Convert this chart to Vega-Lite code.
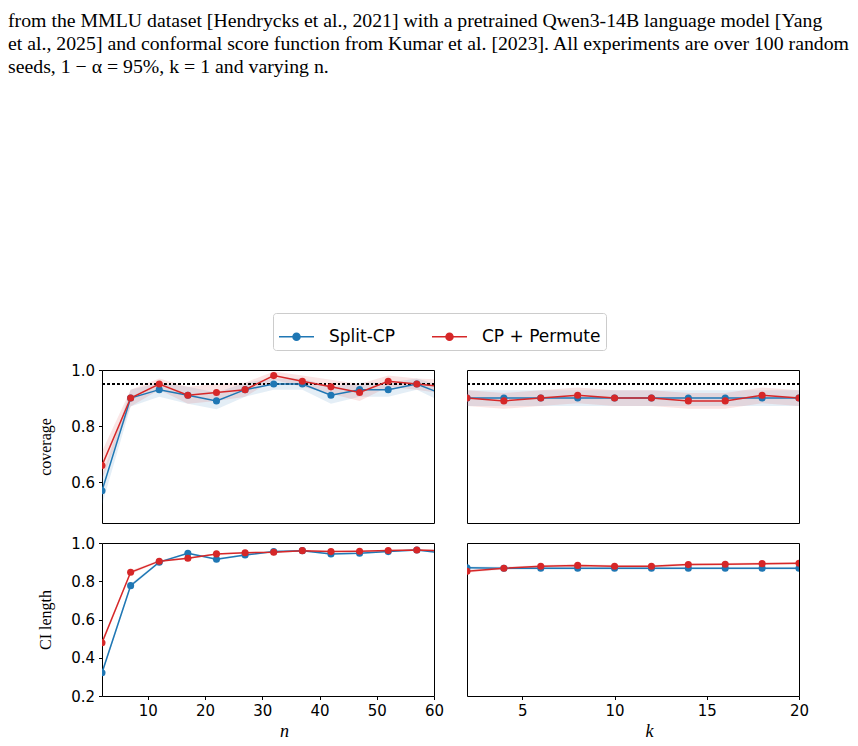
{
  "$schema": "https://vega.github.io/schema/vega-lite/v6.json",
  "background": "white",
  "padding": {"left": 8, "top": 11, "right": 5, "bottom": 5},
  "title": {
    "text": [
      "from the MMLU dataset [Hendrycks et al., 2021] with a pretrained Qwen3-14B language model [Yang",
      "et al., 2025] and conformal score function from Kumar et al. [2023]. All experiments are over 100 random",
      "seeds, 1 − α = 95%, k = 1 and varying n."
    ],
    "anchor": "start",
    "frame": "group",
    "dx": -94,
    "font": "Liberation Serif",
    "fontSize": 19.8,
    "fontWeight": "normal",
    "lineHeight": 22.8,
    "color": "black",
    "offset": 236
  },
  "datasets": {
    "runs": [
      {"panel": "cov_n", "method": "Split-CP", "x": 2, "v": 0.57, "lo": 0.52, "hi": 0.62},
      {"panel": "cov_n", "method": "Split-CP", "x": 7, "v": 0.90, "lo": 0.87, "hi": 0.93},
      {"panel": "cov_n", "method": "Split-CP", "x": 12, "v": 0.93, "lo": 0.905, "hi": 0.955},
      {"panel": "cov_n", "method": "Split-CP", "x": 17, "v": 0.91, "lo": 0.88, "hi": 0.94},
      {"panel": "cov_n", "method": "Split-CP", "x": 22, "v": 0.89, "lo": 0.86, "hi": 0.92},
      {"panel": "cov_n", "method": "Split-CP", "x": 27, "v": 0.93, "lo": 0.905, "hi": 0.955},
      {"panel": "cov_n", "method": "Split-CP", "x": 32, "v": 0.95, "lo": 0.93, "hi": 0.97},
      {"panel": "cov_n", "method": "Split-CP", "x": 37, "v": 0.95, "lo": 0.93, "hi": 0.97},
      {"panel": "cov_n", "method": "Split-CP", "x": 42, "v": 0.91, "lo": 0.88, "hi": 0.94},
      {"panel": "cov_n", "method": "Split-CP", "x": 47, "v": 0.93, "lo": 0.905, "hi": 0.955},
      {"panel": "cov_n", "method": "Split-CP", "x": 52, "v": 0.93, "lo": 0.905, "hi": 0.955},
      {"panel": "cov_n", "method": "Split-CP", "x": 57, "v": 0.95, "lo": 0.93, "hi": 0.97},
      {"panel": "cov_n", "method": "Split-CP", "x": 62, "v": 0.91, "lo": 0.88, "hi": 0.94},
      {"panel": "cov_n", "method": "CP + Permute", "x": 2, "v": 0.66, "lo": 0.61, "hi": 0.71},
      {"panel": "cov_n", "method": "CP + Permute", "x": 7, "v": 0.90, "lo": 0.87, "hi": 0.93},
      {"panel": "cov_n", "method": "CP + Permute", "x": 12, "v": 0.95, "lo": 0.93, "hi": 0.97},
      {"panel": "cov_n", "method": "CP + Permute", "x": 17, "v": 0.91, "lo": 0.88, "hi": 0.94},
      {"panel": "cov_n", "method": "CP + Permute", "x": 22, "v": 0.92, "lo": 0.89, "hi": 0.95},
      {"panel": "cov_n", "method": "CP + Permute", "x": 27, "v": 0.93, "lo": 0.905, "hi": 0.955},
      {"panel": "cov_n", "method": "CP + Permute", "x": 32, "v": 0.98, "lo": 0.965, "hi": 0.995},
      {"panel": "cov_n", "method": "CP + Permute", "x": 37, "v": 0.96, "lo": 0.94, "hi": 0.98},
      {"panel": "cov_n", "method": "CP + Permute", "x": 42, "v": 0.94, "lo": 0.915, "hi": 0.965},
      {"panel": "cov_n", "method": "CP + Permute", "x": 47, "v": 0.92, "lo": 0.89, "hi": 0.95},
      {"panel": "cov_n", "method": "CP + Permute", "x": 52, "v": 0.96, "lo": 0.94, "hi": 0.98},
      {"panel": "cov_n", "method": "CP + Permute", "x": 57, "v": 0.95, "lo": 0.93, "hi": 0.97},
      {"panel": "cov_n", "method": "CP + Permute", "x": 62, "v": 0.94, "lo": 0.915, "hi": 0.965},

      {"panel": "cov_k", "method": "Split-CP", "x": 2, "v": 0.90, "lo": 0.872, "hi": 0.928},
      {"panel": "cov_k", "method": "Split-CP", "x": 4, "v": 0.90, "lo": 0.872, "hi": 0.928},
      {"panel": "cov_k", "method": "Split-CP", "x": 6, "v": 0.90, "lo": 0.872, "hi": 0.928},
      {"panel": "cov_k", "method": "Split-CP", "x": 8, "v": 0.90, "lo": 0.872, "hi": 0.928},
      {"panel": "cov_k", "method": "Split-CP", "x": 10, "v": 0.90, "lo": 0.872, "hi": 0.928},
      {"panel": "cov_k", "method": "Split-CP", "x": 12, "v": 0.90, "lo": 0.872, "hi": 0.928},
      {"panel": "cov_k", "method": "Split-CP", "x": 14, "v": 0.90, "lo": 0.872, "hi": 0.928},
      {"panel": "cov_k", "method": "Split-CP", "x": 16, "v": 0.90, "lo": 0.872, "hi": 0.928},
      {"panel": "cov_k", "method": "Split-CP", "x": 18, "v": 0.90, "lo": 0.872, "hi": 0.928},
      {"panel": "cov_k", "method": "Split-CP", "x": 20, "v": 0.90, "lo": 0.872, "hi": 0.928},
      {"panel": "cov_k", "method": "CP + Permute", "x": 2, "v": 0.90, "lo": 0.872, "hi": 0.928},
      {"panel": "cov_k", "method": "CP + Permute", "x": 4, "v": 0.89, "lo": 0.862, "hi": 0.918},
      {"panel": "cov_k", "method": "CP + Permute", "x": 6, "v": 0.90, "lo": 0.872, "hi": 0.928},
      {"panel": "cov_k", "method": "CP + Permute", "x": 8, "v": 0.91, "lo": 0.882, "hi": 0.938},
      {"panel": "cov_k", "method": "CP + Permute", "x": 10, "v": 0.90, "lo": 0.872, "hi": 0.928},
      {"panel": "cov_k", "method": "CP + Permute", "x": 12, "v": 0.90, "lo": 0.872, "hi": 0.928},
      {"panel": "cov_k", "method": "CP + Permute", "x": 14, "v": 0.89, "lo": 0.862, "hi": 0.918},
      {"panel": "cov_k", "method": "CP + Permute", "x": 16, "v": 0.89, "lo": 0.862, "hi": 0.918},
      {"panel": "cov_k", "method": "CP + Permute", "x": 18, "v": 0.91, "lo": 0.882, "hi": 0.938},
      {"panel": "cov_k", "method": "CP + Permute", "x": 20, "v": 0.90, "lo": 0.872, "hi": 0.928},

      {"panel": "len_n", "method": "Split-CP", "x": 2, "v": 0.322, "lo": 0.31, "hi": 0.334},
      {"panel": "len_n", "method": "Split-CP", "x": 7, "v": 0.777, "lo": 0.767, "hi": 0.787},
      {"panel": "len_n", "method": "Split-CP", "x": 12, "v": 0.900, "lo": 0.894, "hi": 0.906},
      {"panel": "len_n", "method": "Split-CP", "x": 17, "v": 0.946, "lo": 0.941, "hi": 0.951},
      {"panel": "len_n", "method": "Split-CP", "x": 22, "v": 0.915, "lo": 0.91, "hi": 0.92},
      {"panel": "len_n", "method": "Split-CP", "x": 27, "v": 0.937, "lo": 0.932, "hi": 0.942},
      {"panel": "len_n", "method": "Split-CP", "x": 32, "v": 0.955, "lo": 0.951, "hi": 0.959},
      {"panel": "len_n", "method": "Split-CP", "x": 37, "v": 0.960, "lo": 0.956, "hi": 0.964},
      {"panel": "len_n", "method": "Split-CP", "x": 42, "v": 0.943, "lo": 0.939, "hi": 0.947},
      {"panel": "len_n", "method": "Split-CP", "x": 47, "v": 0.946, "lo": 0.942, "hi": 0.95},
      {"panel": "len_n", "method": "Split-CP", "x": 52, "v": 0.955, "lo": 0.951, "hi": 0.959},
      {"panel": "len_n", "method": "Split-CP", "x": 57, "v": 0.963, "lo": 0.959, "hi": 0.967},
      {"panel": "len_n", "method": "Split-CP", "x": 62, "v": 0.947, "lo": 0.943, "hi": 0.951},
      {"panel": "len_n", "method": "CP + Permute", "x": 2, "v": 0.478, "lo": 0.463, "hi": 0.493},
      {"panel": "len_n", "method": "CP + Permute", "x": 7, "v": 0.847, "lo": 0.838, "hi": 0.856},
      {"panel": "len_n", "method": "CP + Permute", "x": 12, "v": 0.905, "lo": 0.899, "hi": 0.911},
      {"panel": "len_n", "method": "CP + Permute", "x": 17, "v": 0.920, "lo": 0.915, "hi": 0.925},
      {"panel": "len_n", "method": "CP + Permute", "x": 22, "v": 0.943, "lo": 0.939, "hi": 0.947},
      {"panel": "len_n", "method": "CP + Permute", "x": 27, "v": 0.949, "lo": 0.945, "hi": 0.953},
      {"panel": "len_n", "method": "CP + Permute", "x": 32, "v": 0.952, "lo": 0.948, "hi": 0.956},
      {"panel": "len_n", "method": "CP + Permute", "x": 37, "v": 0.960, "lo": 0.956, "hi": 0.964},
      {"panel": "len_n", "method": "CP + Permute", "x": 42, "v": 0.955, "lo": 0.951, "hi": 0.959},
      {"panel": "len_n", "method": "CP + Permute", "x": 47, "v": 0.957, "lo": 0.953, "hi": 0.961},
      {"panel": "len_n", "method": "CP + Permute", "x": 52, "v": 0.961, "lo": 0.957, "hi": 0.965},
      {"panel": "len_n", "method": "CP + Permute", "x": 57, "v": 0.963, "lo": 0.959, "hi": 0.967},
      {"panel": "len_n", "method": "CP + Permute", "x": 62, "v": 0.960, "lo": 0.956, "hi": 0.964},

      {"panel": "len_k", "method": "Split-CP", "x": 2, "v": 0.870, "lo": 0.862, "hi": 0.878},
      {"panel": "len_k", "method": "Split-CP", "x": 4, "v": 0.868, "lo": 0.86, "hi": 0.876},
      {"panel": "len_k", "method": "Split-CP", "x": 6, "v": 0.868, "lo": 0.86, "hi": 0.876},
      {"panel": "len_k", "method": "Split-CP", "x": 8, "v": 0.868, "lo": 0.86, "hi": 0.876},
      {"panel": "len_k", "method": "Split-CP", "x": 10, "v": 0.868, "lo": 0.86, "hi": 0.876},
      {"panel": "len_k", "method": "Split-CP", "x": 12, "v": 0.868, "lo": 0.86, "hi": 0.876},
      {"panel": "len_k", "method": "Split-CP", "x": 14, "v": 0.868, "lo": 0.86, "hi": 0.876},
      {"panel": "len_k", "method": "Split-CP", "x": 16, "v": 0.868, "lo": 0.86, "hi": 0.876},
      {"panel": "len_k", "method": "Split-CP", "x": 18, "v": 0.868, "lo": 0.86, "hi": 0.876},
      {"panel": "len_k", "method": "Split-CP", "x": 20, "v": 0.868, "lo": 0.86, "hi": 0.876},
      {"panel": "len_k", "method": "CP + Permute", "x": 2, "v": 0.852, "lo": 0.845, "hi": 0.859},
      {"panel": "len_k", "method": "CP + Permute", "x": 4, "v": 0.868, "lo": 0.861, "hi": 0.875},
      {"panel": "len_k", "method": "CP + Permute", "x": 6, "v": 0.878, "lo": 0.871, "hi": 0.885},
      {"panel": "len_k", "method": "CP + Permute", "x": 8, "v": 0.883, "lo": 0.876, "hi": 0.89},
      {"panel": "len_k", "method": "CP + Permute", "x": 10, "v": 0.878, "lo": 0.871, "hi": 0.885},
      {"panel": "len_k", "method": "CP + Permute", "x": 12, "v": 0.878, "lo": 0.871, "hi": 0.885},
      {"panel": "len_k", "method": "CP + Permute", "x": 14, "v": 0.887, "lo": 0.88, "hi": 0.894},
      {"panel": "len_k", "method": "CP + Permute", "x": 16, "v": 0.889, "lo": 0.882, "hi": 0.896},
      {"panel": "len_k", "method": "CP + Permute", "x": 18, "v": 0.892, "lo": 0.885, "hi": 0.899},
      {"panel": "len_k", "method": "CP + Permute", "x": 20, "v": 0.894, "lo": 0.887, "hi": 0.901}
    ]
  },
  "columns": 2,
  "spacing": {"row": 20, "column": 33},
  "bounds": "flush",
  "concat": [
    {
      "width": 332, "height": 153,
      "data": {"name": "runs"},
      "transform": [{"filter": "datum.panel === 'cov_n'"}],
      "layer": [
        {"mark": {"type": "area", "opacity": 0.12, "clip": true},
         "encoding": {
           "x": {"field": "x", "type": "quantitative", "scale": {"domain": [2, 60], "nice": false, "zero": false}, "axis": null},
           "y": {"field": "lo", "type": "quantitative", "title": "coverage", "scale": {"domain": [0.455, 1.0], "nice": false, "zero": false}, "axis": {"values": [0.6, 0.8, 1.0], "format": ".1f", "labelOverlap": false, "labelFlush": false}},
           "y2": {"field": "hi"},
           "color": {"field": "method", "type": "nominal", "scale": {"domain": ["Split-CP", "CP + Permute"], "range": ["#1f77b4", "#d62728"]}, "title": null}}},
        {"mark": {"type": "rule", "color": "black", "strokeWidth": 1.8, "strokeDash": [1.8, 2.9]},
         "encoding": {"y": {"datum": 0.95}}},
        {"mark": {"type": "line", "strokeWidth": 1.5, "clip": true},
         "encoding": {
           "x": {"field": "x", "type": "quantitative"},
           "y": {"field": "v", "type": "quantitative", "title": "coverage"},
           "color": {"field": "method", "type": "nominal", "title": null}}},
        {"mark": {"type": "point", "filled": true, "size": 50, "opacity": 1, "clip": true},
         "encoding": {
           "x": {"field": "x", "type": "quantitative"},
           "y": {"field": "v", "type": "quantitative", "title": "coverage"},
           "color": {"field": "method", "type": "nominal", "title": null}}}
      ]
    },
    {
      "width": 332, "height": 153,
      "data": {"name": "runs"},
      "transform": [{"filter": "datum.panel === 'cov_k'"}],
      "layer": [
        {"mark": {"type": "area", "opacity": 0.12, "clip": true},
         "encoding": {
           "x": {"field": "x", "type": "quantitative", "scale": {"domain": [2, 20], "nice": false, "zero": false}, "axis": null},
           "y": {"field": "lo", "type": "quantitative", "scale": {"domain": [0.455, 1.0], "nice": false, "zero": false}, "axis": null},
           "y2": {"field": "hi"},
           "color": {"field": "method", "type": "nominal", "title": null}}},
        {"mark": {"type": "rule", "color": "black", "strokeWidth": 1.8, "strokeDash": [1.8, 2.9]},
         "encoding": {"y": {"datum": 0.95}}},
        {"mark": {"type": "line", "strokeWidth": 1.5, "clip": true},
         "encoding": {
           "x": {"field": "x", "type": "quantitative"},
           "y": {"field": "v", "type": "quantitative"},
           "color": {"field": "method", "type": "nominal", "title": null}}},
        {"mark": {"type": "point", "filled": true, "size": 50, "opacity": 1, "clip": true},
         "encoding": {
           "x": {"field": "x", "type": "quantitative"},
           "y": {"field": "v", "type": "quantitative"},
           "color": {"field": "method", "type": "nominal", "title": null}}}
      ]
    },
    {
      "width": 332, "height": 153,
      "data": {"name": "runs"},
      "transform": [{"filter": "datum.panel === 'len_n'"}],
      "layer": [
        {"mark": {"type": "area", "opacity": 0.12, "clip": true},
         "encoding": {
           "x": {"field": "x", "type": "quantitative", "title": "n", "scale": {"domain": [2, 60], "nice": false, "zero": false}, "axis": {"values": [10, 20, 30, 40, 50, 60], "titleX": 182, "labelFlush": false, "labelOverlap": false}},
           "y": {"field": "lo", "type": "quantitative", "title": "CI length", "scale": {"domain": [0.2, 1.0], "nice": false, "zero": false}, "axis": {"values": [0.2, 0.4, 0.6, 0.8, 1.0], "tickCount": 5, "format": ".1f", "labelOverlap": false, "labelFlush": false, "labelSeparation": 0}},
           "y2": {"field": "hi"},
           "color": {"field": "method", "type": "nominal", "title": null}}},
        {"mark": {"type": "line", "strokeWidth": 1.5, "clip": true},
         "encoding": {
           "x": {"field": "x", "type": "quantitative", "title": "n"},
           "y": {"field": "v", "type": "quantitative", "title": "CI length", "axis": {"values": [0.2, 0.4, 0.6, 0.8, 1.0], "tickCount": 5, "format": ".1f", "labelOverlap": false, "labelFlush": false, "labelSeparation": 0}},
           "color": {"field": "method", "type": "nominal", "title": null}}},
        {"mark": {"type": "point", "filled": true, "size": 50, "opacity": 1, "clip": true},
         "encoding": {
           "x": {"field": "x", "type": "quantitative", "title": "n"},
           "y": {"field": "v", "type": "quantitative", "title": "CI length", "axis": {"values": [0.2, 0.4, 0.6, 0.8, 1.0], "tickCount": 5, "format": ".1f", "labelOverlap": false, "labelFlush": false, "labelSeparation": 0}},
           "color": {"field": "method", "type": "nominal", "title": null}}}
      ]
    },
    {
      "width": 332, "height": 153,
      "data": {"name": "runs"},
      "transform": [{"filter": "datum.panel === 'len_k'"}],
      "layer": [
        {"mark": {"type": "area", "opacity": 0.12, "clip": true},
         "encoding": {
           "x": {"field": "x", "type": "quantitative", "title": "k", "scale": {"domain": [2, 20], "nice": false, "zero": false}, "axis": {"values": [5, 10, 15, 20], "titleX": 182, "labelFlush": false, "labelOverlap": false}},
           "y": {"field": "lo", "type": "quantitative", "scale": {"domain": [0.2, 1.0], "nice": false, "zero": false}, "axis": null},
           "y2": {"field": "hi"},
           "color": {"field": "method", "type": "nominal", "title": null}}},
        {"mark": {"type": "line", "strokeWidth": 1.5, "clip": true},
         "encoding": {
           "x": {"field": "x", "type": "quantitative", "title": "k"},
           "y": {"field": "v", "type": "quantitative"},
           "color": {"field": "method", "type": "nominal", "title": null}}},
        {"mark": {"type": "point", "filled": true, "size": 50, "opacity": 1, "clip": true},
         "encoding": {
           "x": {"field": "x", "type": "quantitative", "title": "k"},
           "y": {"field": "v", "type": "quantitative"},
           "color": {"field": "method", "type": "nominal", "title": null}}}
      ]
    }
  ],
  "config": {
    "view": {"stroke": "black", "strokeWidth": 1},
    "axis": {
      "grid": false,
      "domain": false,
      "ticks": true,
      "tickColor": "black",
      "tickSize": 3.5,
      "tickWidth": 1,
      "labelFont": "DejaVu Sans",
      "labelFontSize": 15,
      "labelColor": "black",
      "labelPadding": 4,
      "labelOverlap": false,
      "labelFlush": false,
      "titleFont": "Liberation Serif",
      "titleFontSize": 16,
      "titleFontWeight": "normal",
      "titleColor": "black",
      "titlePadding": 17
    },
    "axisX": {"titleFontStyle": "italic", "titleFontSize": 18, "titlePadding": 4},
    "legend": {
      "orient": "none",
      "legendX": 171,
      "legendY": -57,
      "direction": "horizontal",
      "strokeColor": "#cccccc",
      "cornerRadius": 3,
      "padding": 5,
      "fillColor": "white",
      "labelFont": "DejaVu Sans",
      "labelFontSize": 17,
      "labelColor": "black",
      "labelOffset": 14,
      "columnPadding": 34,
      "symbolType": "M-1,0H1M-0.2,0A0.2,0.2 0 1,1 0.2,0A0.2,0.2 0 1,1 -0.2,0Z",
      "symbolSize": 1225,
      "symbolStrokeWidth": 1.5,
      "symbolOpacity": 1
    }
  }
}
